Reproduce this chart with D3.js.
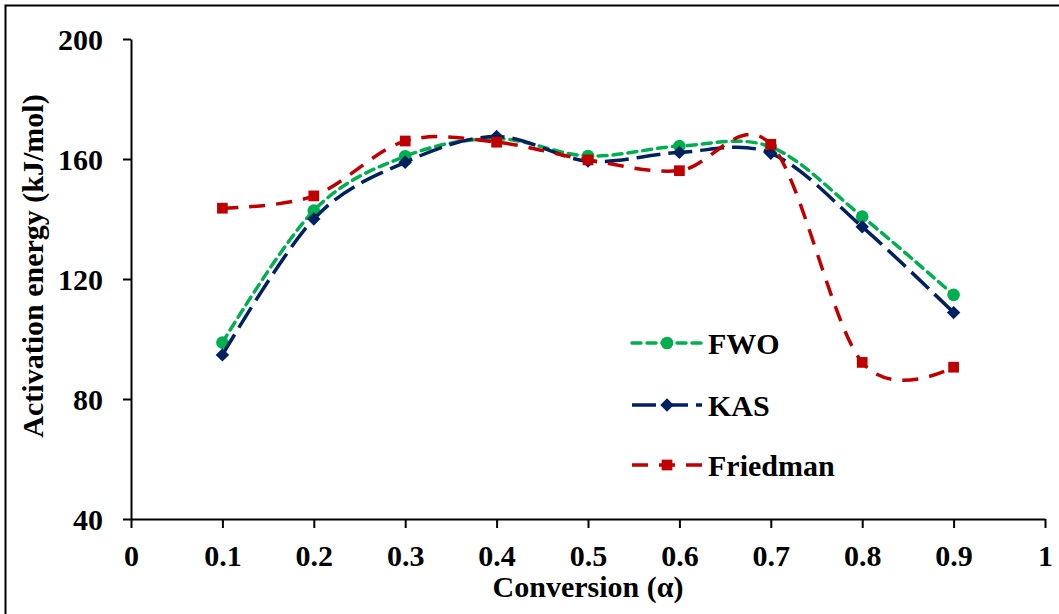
<!DOCTYPE html>
<html><head><meta charset="utf-8">
<script src="https://cdn.jsdelivr.net/npm/d3@7"></script>
<style>body{margin:0;background:#fff}svg{display:block}text{font-family:"Liberation Serif","Times New Roman",serif;font-weight:bold;fill:#000}</style>
</head><body>
<script>
const conversion = [0.1,0.2,0.3,0.4,0.5,0.6,0.7,0.8,0.9];
const fwo = [98.8,142.8,160.9,166.8,161.0,164.3,164.0,140.8,114.7];
const kas = [94.7,140.0,158.9,167.5,159.3,162.2,161.9,137.4,108.8];
const friedman = [143.6,147.7,166.0,165.6,159.7,156.1,164.9,92.2,90.6];
const xTicks = [0,0.1,0.2,0.3,0.4,0.5,0.6,0.7,0.8,0.9,1];
const yTicks = [40,80,120,160,200];
const seriesNames = ["FWO","KAS","Friedman"];

const W=1059,H=614;
const svg=d3.select("body").append("svg").attr("width",W).attr("height",H);
svg.append("rect").attr("x",5.5).attr("y",5.5).attr("width",W).attr("height",H).attr("fill","none").attr("stroke","#000").attr("stroke-width",2);

const x=d3.scaleLinear().domain([0,1]).range([131,1045]);
const y=d3.scaleLinear().domain([40,200]).range([519,39]);

const fs=30;
const xAxis=svg.append("g").attr("transform","translate(0,519)")
  .call(d3.axisBottom(x).tickValues(xTicks).tickFormat(d=>d===0||d===1?String(d):d3.format(".1f")(d)).tickSizeInner(9).tickSizeOuter(0).tickPadding(0));
const yAxis=svg.append("g").attr("transform","translate(131,0)")
  .call(d3.axisLeft(y).tickValues(yTicks).tickSizeInner(8).tickSizeOuter(0).tickPadding(20));
[xAxis,yAxis].forEach(g=>{
  g.select(".domain").attr("stroke","#000").attr("stroke-width",2);
  g.selectAll(".tick line").attr("stroke","#000").attr("stroke-width",2);
  g.selectAll(".tick text").attr("font-size",fs).attr("font-family","Liberation Serif").attr("font-weight","bold").attr("fill","#000");
});
xAxis.selectAll(".tick text").attr("y",47).attr("dy",null);
yAxis.selectAll(".tick text").attr("dy","0.35em");

svg.append("text").attr("x",588).attr("y",597).attr("text-anchor","middle").attr("font-size",fs).text("Conversion (α)");
svg.append("text").attr("transform","translate(43,266) rotate(-90)").attr("text-anchor","middle").attr("font-size",fs).text("Activation energy (kJ/mol)");

const line=d3.line().x((d,i)=>x(conversion[i])).y(d=>y(d)).curve(d3.curveCatmullRom.alpha(0));
const styles=[
  {data:fwo,color:"#00B050",dash:"9,6",cap:"round",marker:"circle"},
  {data:kas,color:"#002060",dash:"24,8",cap:"butt",marker:"diamond"},
  {data:friedman,color:"#C00000",dash:"16,11",cap:"butt",marker:"square"}
];
const sym={circle:d3.symbol().type(d3.symbolCircle).size(125),diamond:d3.symbol().type(d3.symbolDiamond2).size(115),square:d3.symbol().type(d3.symbolSquare).size(115)};
styles.forEach(s=>{
  svg.append("path").datum(s.data).attr("d",line).attr("fill","none").attr("stroke",s.color).attr("stroke-width",3.5).attr("stroke-dasharray",s.dash).attr("stroke-linecap",s.cap);
  svg.selectAll(null).data(s.data).enter().append("path")
    .attr("transform",(d,i)=>`translate(${x(conversion[i])},${y(d)})`)
    .attr("d",sym[s.marker]()).attr("fill",s.color);
});

// legend
const legY=[343,405,465];
styles.forEach((s,i)=>{
  const g=svg.append("g");
  g.append("line").attr("x1",632).attr("x2",702).attr("y1",legY[i]).attr("y2",legY[i]).attr("stroke",s.color).attr("stroke-width",3.5).attr("stroke-dasharray",s.dash).attr("stroke-linecap",s.cap);
  g.append("path").attr("transform",`translate(667,${legY[i]})`).attr("d",sym[s.marker]()).attr("fill",s.color);
  g.append("text").attr("x",708).attr("y",legY[i]).attr("dy","0.35em").attr("font-size",fs).text(seriesNames[i]);
});
</script>
</body></html>
